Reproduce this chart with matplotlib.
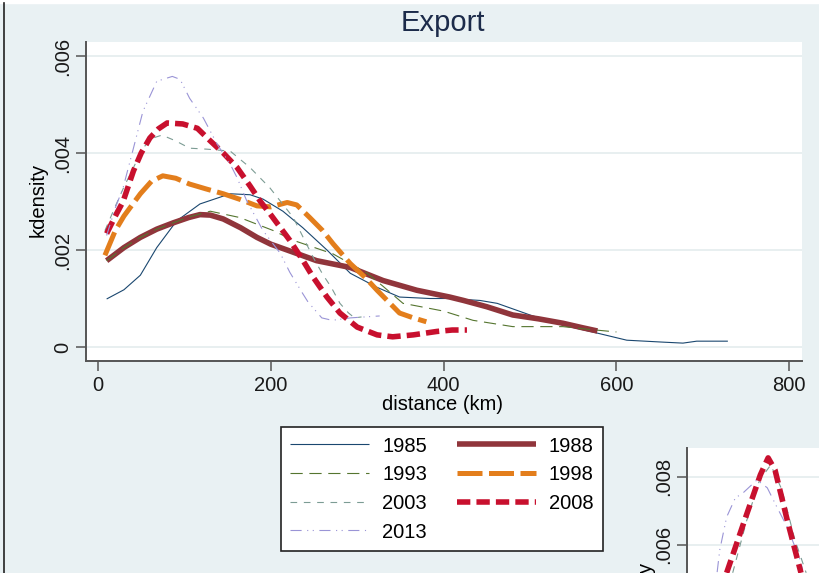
import matplotlib.pyplot as plt
from matplotlib.lines import Line2D
from matplotlib.patches import Rectangle
from matplotlib.ticker import FuncFormatter

plt.rcParams['font.family'] = ['Liberation Sans', 'DejaVu Sans']

# kernel density of export distance (km), one curve per year
x1985 = [10, 30, 49, 68, 91, 118, 153, 176, 191, 214, 237, 265, 292, 323, 349, 384, 407, 442, 462, 500, 538, 577, 612, 654, 677, 693, 729]
y1985 = [.00099, .00118, .00148, .00205, .0026, .00295, .00316, .00314, .00305, .0028, .00246, .002, .00152, .00123, .00103, .001, .001, .00096, .0009, .00066, .00045, .00029, .00014, .0001, .00008, .00012, .00012]

x1988 = [10, 30, 49, 68, 87, 105, 118, 130, 145, 165, 184, 200, 222, 253, 292, 330, 369, 407, 423, 450, 480, 510, 538, 560, 578]
y1988 = [.00178, .00205, .00226, .00243, .00256, .00267, .00273, .00272, .00264, .00246, .00226, .00212, .00198, .00178, .00164, .00137, .00117, .00103, .00096, .00083, .00066, .00058, .00049, .0004, .00033]

x1993 = [10, 30, 49, 68, 87, 105, 130, 164, 203, 226, 272, 311, 330, 353, 365, 400, 434, 480, 538, 570, 600]
y1993 = [.00178, .00205, .00226, .00243, .00256, .00268, .0028, .00267, .0024, .0022, .00192, .00153, .00125, .0009, .00086, .00074, .00055, .00042, .00042, .00036, .00031]

x1998 = [8, 20, 30, 49, 62, 75, 90, 106, 125, 145, 165, 184, 200, 219, 230, 245, 260, 272, 292, 310, 323, 349, 365, 380]
y1998 = [.00189, .0024, .0027, .00316, .00342, .00353, .00348, .00336, .00326, .00316, .00304, .00291, .00289, .00298, .00293, .00267, .0024, .00213, .00172, .00142, .00117, .0007, .0006, .00052]

x2003 = [8, 20, 30, 41, 52, 62, 74, 90, 106, 126, 153, 176, 199, 226, 249, 260, 270, 280, 290, 297, 305]
y2003 = [.0024, .0029, .0033, .0037, .0041, .0043, .00437, .00425, .0041, .00408, .00404, .0037, .00328, .00267, .00185, .0015, .00123, .0009, .0007, .0006, .00062]

x2008 = [10, 20, 29, 41, 50, 60, 70, 80, 98, 115, 130, 145, 161, 176, 188, 199, 222, 237, 249, 265, 280, 300, 323, 341, 365, 392, 410, 427]
y2008 = [.00234, .0027, .003, .00363, .004, .00431, .0045, .00462, .0046, .00451, .00425, .004, .0037, .00332, .003, .00275, .0022, .00179, .00144, .00103, .0007, .00041, .00025, .00021, .00025, .00032, .00035, .00035]

x2013 = [10, 20, 29, 41, 52, 68, 86, 95, 106, 122, 138, 153, 161, 172, 191, 211, 222, 237, 243, 259, 271, 292, 326]
y2013 = [.0023, .00287, .00328, .0041, .00486, .00548, .00558, .00552, .00513, .00472, .00418, .00377, .00349, .00302, .0024, .00193, .00154, .0011, .00093, .0006, .00055, .0006, .00064]

# second panel (only its top corner is shown)
xb2003 = [39, 55, 70, 83, 96, 111, 124]
yb2003 = [.00518, .0067, .0079, .00835, .00762, .00615, .00518]
xb2008 = [32, 53, 71, 80, 88, 102, 118]
yb2008 = [.00518, .00674, .00806, .00856, .0082, .00674, .00518]
xb2013 = [21, 24, 32, 42, 51, 67, 79, 90, 102, 117, 120]
yb2013 = [.0052, .00585, .00682, .00738, .00753, .00791, .00768, .00712, .00653, .00556, .00527]

xticks = [0, 200, 400, 600, 800]
yticks = [0, .002, .004, .006]
yticks_b = [.006, .008]

bg = '#e9f1f3'
grid_c = '#e4ecee'
spine_c = '#555555'

styles = {
    '1985': dict(color='#1a476f', lw=0.8, ls='-'),
    '1988': dict(color='#90353b', lw=4.0, ls='-'),
    '1993': dict(color='#55752f', lw=0.8, ls=(0, (11, 6))),
    '1998': dict(color='#e37e1c', lw=3.6, ls=(0, (5, 1.3))),
    '2003': dict(color='#7c9c94', lw=0.8, ls=(0, (6, 6))),
    '2008': dict(color='#c8102e', lw=4.0, ls=(0, (2.4, 1.1))),
    '2013': dict(color='#9a94d6', lw=0.8, ls=(0, (10, 5, 1, 4, 1, 5))),
}

W, H = 819, 573
fig = plt.figure(figsize=(W / 100, H / 100), dpi=100, facecolor=bg)
fig.patches.append(Rectangle((0, 1 - 3 / H), 1, 3 / H, transform=fig.transFigure, color='white', zorder=0))
fig.lines.append(Line2D([3.5 / W, 3.5 / W], [0, 1 - 3 / H], transform=fig.transFigure, color='#222222', lw=1.2))


def fmt(v, pos):
    if abs(v) < 1e-12:
        return '0'
    return f'{v:.3f}'.lstrip('0')


def style_axes(a):
    a.set_facecolor('white')
    for s in ['top', 'right']:
        a.spines[s].set_visible(False)
    for s in ['left', 'bottom']:
        a.spines[s].set_color(spine_c)
        a.spines[s].set_linewidth(1.4)
    a.tick_params(length=7, width=1.1, color=spine_c, labelsize=14.5, labelcolor='#1a1a1a')
    a.tick_params(axis='y', labelrotation=90, pad=3)
    a.yaxis.set_major_formatter(FuncFormatter(fmt))
    a.grid(axis='y', color=grid_c, lw=1.2)
    a.set_axisbelow(True)


ax = fig.add_axes([86 / W, 1 - 361 / H, 716 / W, 319 / H])
style_axes(ax)
ax.set_xlim(-13.9, 814.8)
ax.set_ylim(-0.000289, 0.00629)
ax.set_xticks(xticks)
ax.set_yticks(yticks)
for lab in ax.get_yticklabels():
    lab.set_va('center')

series = [('1985', x1985, y1985), ('1988', x1988, y1988), ('1993', x1993, y1993),
          ('1998', x1998, y1998), ('2003', x2003, y2003), ('2008', x2008, y2008),
          ('2013', x2013, y2013)]
handles = {}
for name, xs, ys in series:
    st = styles[name]
    h, = ax.plot(xs, ys, color=st['color'], lw=st['lw'], ls=st['ls'], label=name,
                 solid_capstyle='butt', dash_capstyle='butt')
    handles[name] = h

fig.text(443 / W, 1 - 23 / H, 'Export', ha='center', va='center', fontsize=21, color='#1c2b4a')
fig.text(38 / W, 1 - 200 / H, 'kdensity', ha='center', va='center', rotation=90, fontsize=14.5)
fig.text(443 / W, 1 - 405 / H, 'distance (km)', ha='center', va='center', fontsize=14.5)

# second panel, cut off by the figure edge
ax2 = fig.add_axes([687 / W, 1 - 448 / H - 314.5 / H, 716 / W, 314.5 / H])
style_axes(ax2)
ax2.set_xlim(-13.9, 814.8)
ax2.set_ylim(-0.0004, 0.00885)
ax2.set_xticks(xticks)
ax2.set_yticks(yticks_b)
for lab in ax2.get_yticklabels():
    lab.set_va('center')
ax2.set_xticklabels([])
for name, xs, ys in [('2013', xb2013, yb2013), ('2003', xb2003, yb2003), ('2008', xb2008, yb2008)]:
    st = styles[name]
    ax2.plot(xs, ys, color=st['color'], lw=st['lw'], ls=st['ls'],
             solid_capstyle='butt', dash_capstyle='butt')
fig.text(645 / W, 1 - 598 / H, 'kdensity', ha='center', va='center', rotation=90, fontsize=14.5)

order = ['1985', '1993', '2003', '2013', '1988', '1998', '2008']
leg = fig.legend([handles[k] for k in order], order, ncol=2, loc='center',
                 bbox_to_anchor=(442 / W, 1 - 489 / H), fontsize=14.5, frameon=True,
                 fancybox=False, edgecolor='#222222', facecolor='white', framealpha=1,
                 handlelength=3.9, handletextpad=0.65, columnspacing=1.5,
                 labelspacing=0.48, borderpad=0.45, borderaxespad=0)
leg.get_frame().set_linewidth(1.2)

fig.savefig('out.png', dpi=100, facecolor=bg)
